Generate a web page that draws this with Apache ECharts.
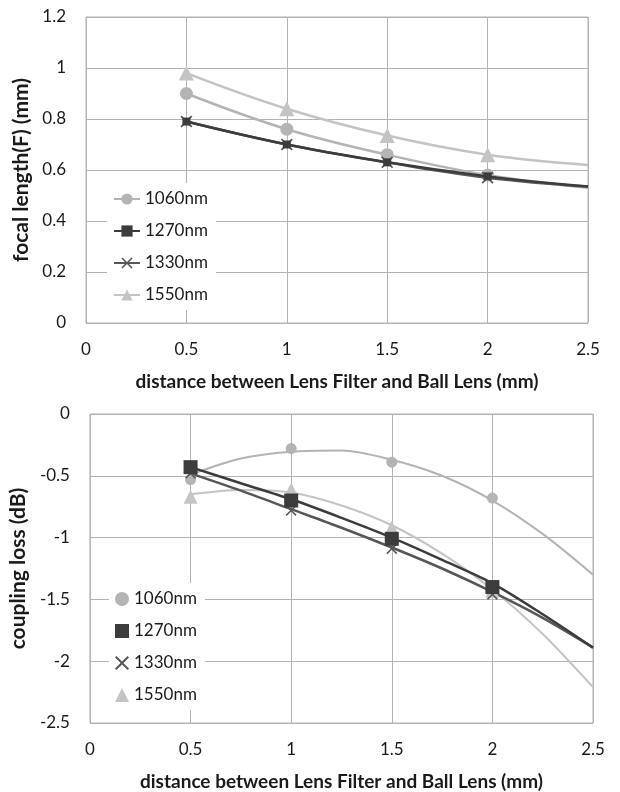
<!DOCTYPE html>
<html>
<head>
<meta charset="utf-8">
<script src="https://cdn.jsdelivr.net/npm/echarts@6/dist/echarts.min.js"></script>
<style>
  html, body { margin: 0; padding: 0; background: #fff; }
  #chart { width: 620px; height: 792px; }
</style>
</head>
<body>
<div id="chart"></div>
<script>
// wavelengths and measured distances
const names = ['1060nm', '1270nm', '1330nm', '1550nm'];
const xPoints = [0.5, 1, 1.5, 2];

// focal length (mm), top chart
const focal1060 = [0.90, 0.76, 0.66, 0.58];
const focal1270 = [0.79, 0.70, 0.63, 0.575];
const focal1330 = [0.79, 0.70, 0.63, 0.57];
const focal1550 = [0.98, 0.84, 0.735, 0.66];
// where each fitted curve ends at x = 2.5
const focalEnd = [0.53, 0.535, 0.535, 0.62];

// coupling loss (dB), bottom chart
const loss1060 = [-0.53, -0.28, -0.39, -0.68];
const loss1270 = [-0.43, -0.70, -1.01, -1.40];
const loss1330 = [-0.48, -0.78, -1.09, -1.46];
const loss1550 = [-0.67, -0.61, -0.92, -1.43];

// trend curves
const trendX = [0.5, 0.75, 1, 1.25, 1.5, 1.75, 2, 2.25, 2.5];
const trend1060 = [-0.49, -0.36, -0.305, -0.295, -0.37, -0.50, -0.70, -0.97, -1.30];
const trend1270 = [-0.43, -0.56, -0.69, -0.84, -1.00, -1.18, -1.37, -1.62, -1.89];
const trend1330 = [-0.48, -0.62, -0.77, -0.92, -1.08, -1.25, -1.44, -1.65, -1.89];
const trend1550 = [-0.65, -0.615, -0.635, -0.74, -0.90, -1.13, -1.42, -1.78, -2.21];

const colors = ['#b4b4b4', '#3c3c3c', '#575757', '#c4c4c4'];
const xMark = 'path://M1,0 L5,4 L9,0 L10,1 L6,5 L10,9 L9,10 L5,6 L1,10 L0,9 L4,5 L0,1 Z';
const FONT = 'Lato';

const chart = echarts.init(document.getElementById('chart'));

function pairs(xs, ys) {
    return xs.map((x, i) => [x, ys[i]]);
}

const focal = [focal1060, focal1270, focal1330, focal1550];
const loss = [loss1060, loss1270, loss1330, loss1550];
const trends = [trend1060, trend1270, trend1330, trend1550];
const symbols = ['circle', 'rect', xMark, 'triangle'];
const topSizes = [13, 8, 12, 15];
const botSizes = [11, 14, 11, 14];
const zOrder = [2, 5, 4, 3];

const series = [];

// top chart: smooth lines with markers, extended to 2.5
names.forEach((name, i) => {
    const pts = pairs(xPoints, focal[i]);
    pts.push({ value: [2.5, focalEnd[i]], symbol: 'none' });
    series.push({
        name: name,
        type: 'line',
        xAxisIndex: 0,
        yAxisIndex: 0,
        data: pts,
        smooth: 0.4,
        symbol: symbols[i],
        symbolSize: topSizes[i],
        showAllSymbol: true,
        z: zOrder[i],
        lineStyle: { color: colors[i], width: 2.5 },
        itemStyle: { color: colors[i] },
        emphasis: { disabled: true }
    });
});

// bottom chart: trend curves (not in the legend)
names.forEach((name, i) => {
    series.push({
        name: 'trend ' + name,
        type: 'line',
        xAxisIndex: 1,
        yAxisIndex: 1,
        data: pairs(trendX, trends[i]),
        smooth: 0.3,
        showSymbol: false,
        z: zOrder[i],
        lineStyle: { color: colors[i], width: i === 0 || i === 3 ? 2 : 2.5 },
        emphasis: { disabled: true }
    });
});

// bottom chart: markers only
names.forEach((name, i) => {
    series.push({
        name: 'loss ' + name,
        type: 'scatter',
        xAxisIndex: 1,
        yAxisIndex: 1,
        data: pairs(xPoints, loss[i]),
        symbol: symbols[i],
        symbolSize: botSizes[i],
        z: zOrder[i] + 5,
        itemStyle: { color: colors[i], opacity: 1 },
        emphasis: { disabled: true }
    });
});

const labelStyle = { color: '#1a1a1a', fontSize: 17, fontFamily: FONT };
const gridLine = { show: true, lineStyle: { color: '#b3b3b3', width: 1 } };

function xAxis(gridIndex) {
    return {
        type: 'value',
        gridIndex: gridIndex,
        min: 0,
        max: 2.5,
        interval: 0.5,
        name: 'distance between Lens Filter and Ball Lens (mm)',
        nameLocation: 'middle',
        nameGap: 49,
        nameTextStyle: { color: '#1a1a1a', fontSize: 19, fontWeight: 'bold', fontFamily: FONT },
        axisLine: { show: false },
        axisTick: { show: false },
        axisLabel: Object.assign({ margin: 18 }, labelStyle),
        splitLine: gridLine
    };
}

function yAxis(gridIndex, min, max, interval, title) {
    return {
        type: 'value',
        gridIndex: gridIndex,
        min: min,
        max: max,
        interval: interval,
        name: title,
        nameLocation: 'middle',
        nameGap: 46,
        nameTextStyle: { color: '#1a1a1a', fontSize: 21, fontWeight: 'bold', fontFamily: FONT },
        axisLine: { show: false },
        axisTick: { show: false },
        axisLabel: Object.assign({ margin: 20 }, labelStyle),
        splitLine: gridLine
    };
}

function legend(prefix, top, left, itemWidth) {
    return {
        data: names.map(n => ({ name: prefix + n })),
        formatter: n => n.replace(prefix, ''),
        orient: 'vertical',
        left: left,
        top: top,
        padding: [6, 8, 5, 6],
        itemGap: 12,
        itemWidth: itemWidth,
        itemHeight: 14,
        backgroundColor: '#fff',
        selectedMode: false,
        textStyle: { color: '#1a1a1a', fontSize: 17, fontFamily: FONT, lineHeight: 20 }
    };
}

const option = {
    backgroundColor: '#fff',
    animation: false,
    grid: [
        { left: 86, top: 17, width: 502, height: 306, show: true, borderColor: '#b3b3b3', borderWidth: 1 },
        { left: 86, top: 414, width: 507, height: 309, show: true, borderColor: '#b3b3b3', borderWidth: 1 }
    ],
    xAxis: [xAxis(0), xAxis(1)],
    yAxis: [
        yAxis(0, 0, 1.2, 0.2, 'focal length(F) (mm)'),
        yAxis(1, -2.5, 0, 0.5, 'coupling loss (dB)')
    ],
    legend: [
        legend('', 183, 107, 26),
        legend('loss ', 583, 109, 14)
    ],
    series: series
};

chart.setOption(option);
</script>
</body>
</html>
